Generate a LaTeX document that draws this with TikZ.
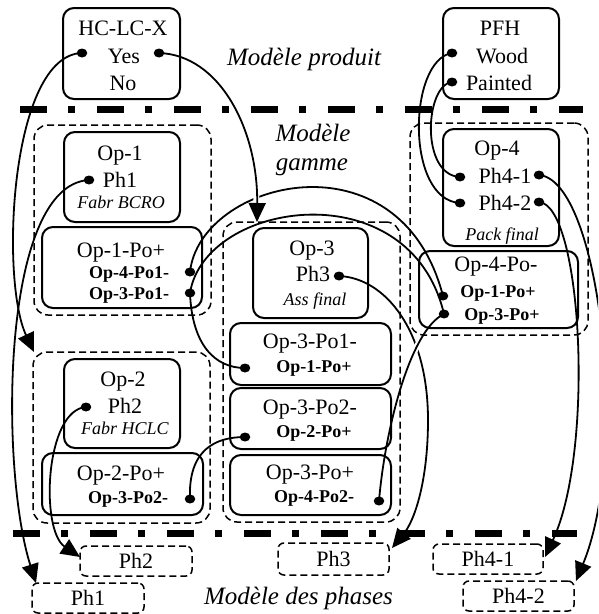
\documentclass[tikz,border=0pt]{standalone}
\usepackage{fontspec}
\setmainfont{Liberation Serif}
\usetikzlibrary{arrows.meta,intersections,shapes.geometric}
\begin{document}
\begin{tikzpicture}[x=1pt,y=-1pt,
  box/.style={draw, line width=2pt, rounded corners=11pt, inner sep=0pt},
  grp/.style={draw, line width=1.5pt, dash pattern=on 7pt off 4pt, rounded corners=14pt, inner sep=0pt},
  phbox/.style={draw, line width=1.5pt, dash pattern=on 7pt off 4pt, rounded corners=6pt, inner sep=0pt, font=\fontsize{22}{24}\selectfont},
  big/.style={font=\fontsize{22}{24}\selectfont, anchor=base, inner sep=0pt},
  small/.style={font=\fontsize{18}{20}\selectfont\bfseries, anchor=base, inner sep=0pt},
  ital/.style={font=\fontsize{18}{20}\selectfont\itshape, anchor=base, inner sep=0pt},
  head/.style={font=\fontsize{25}{28}\selectfont\itshape, anchor=base, inner sep=0pt},
  dot/.style={ellipse, fill, inner sep=0pt, minimum width=10.5pt, minimum height=9pt},
  link/.style={line width=1.8pt},
  arr/.style={link, -{Triangle[length=19pt,width=17pt]}},
  halo/.style={draw=white, line width=6pt},
  sep/.style={line width=7pt, dash pattern=on 27pt off 21pt on 7pt off 22pt},
]
\useasboundingbox (0,0) rectangle (598,614);
\clip (0,0) rectangle (598,614);

% dashed groups
\node[grp, minimum width=177, minimum height=190] (g1) at (122.5,220) {};
\node[grp, minimum width=177, minimum height=171] (g2) at (121.5,437.5) {};
\node[grp, minimum width=177, minimum height=300] (g3) at (311.5,372) {};
\node[grp, minimum width=178, minimum height=212] (g4) at (499,229) {};

% solid boxes
\node[box, minimum width=117, minimum height=91] (bhc) at (121.5,53.5) {};
\node[box, minimum width=116, minimum height=91] (bpfh) at (501,53.5) {};
\node[box, minimum width=116, minimum height=90] (bop1) at (122,177) {};
\node[box, minimum width=160, minimum height=81] (bpo1) at (122,267.5) {};
\node[box, minimum width=116, minimum height=89] (bop2) at (122,403.5) {};
\node[box, minimum width=161, minimum height=62] (bpo2) at (122.5,484) {};
\node[box, minimum width=115, minimum height=90] (bop3) at (310.5,273) {};
\node[box, minimum width=161, minimum height=62] (bpo31) at (310.5,354) {};
\node[box, minimum width=161, minimum height=61] (bpo32) at (310.5,418.5) {};
\node[box, minimum width=161, minimum height=60] (bpo3p) at (310.5,485) {};
\node[box, minimum width=116, minimum height=117] (bop4) at (501,187.5) {};
\node[box, minimum width=159, minimum height=77] (bpo4) at (498.5,289.5) {};

% texts
\node[big] (thc) at (123,35) {HC-LC-X};
\node[big] (tyes) at (124,63) {Yes};
\node[big] (tno) at (123,90) {No};
\node[big] (tpfh) at (500,35) {PFH};
\node[big] (twood) at (502,63) {Wood};
\node[big] (tpainted) at (499,90) {Painted};

\node[big] (top1) at (120,160) {Op-1};
\node[big] (tph1) at (120,187) {Ph1};
\node[ital] (tfb1) at (121,208) {Fabr BCRO};
\node[big] (tpo1) at (121,257) {Op-1-Po+};
\node[small] (tpo1a) at (129,278) {Op-4-Po1-};
\node[small] (tpo1b) at (129,299) {Op-3-Po1-};

\node[big] (top2) at (123,386) {Op-2};
\node[big] (tph2) at (125,413) {Ph2};
\node[ital] (tfb2) at (125,434) {Fabr HCLC};
\node[big] (tpo2) at (121,480) {Op-2-Po+};
\node[small] (tpo2a) at (128,503) {Op-3-Po2-};

\node[big] (top3) at (312,255) {Op-3};
\node[big] (tph3) at (313,281) {Ph3};
\node[ital] (tas3) at (315,305) {Ass final};
\node[big] (tpo31) at (310,348) {Op-3-Po1-};
\node[small] (tpo31a) at (314,372) {Op-1-Po+};
\node[big] (tpo32) at (310,414) {Op-3-Po2-};
\node[small] (tpo32a) at (314,437) {Op-2-Po+};
\node[big] (tpo3p) at (310,479) {Op-3-Po+};
\node[small] (tpo3pa) at (314,502) {Op-4-Po2-};

\node[big] (top4) at (497,155) {Op-4};
\node[big] (tph41) at (505,183) {Ph4-1};
\node[big] (tph42) at (505,210) {Ph4-2};
\node[ital] (tpk4) at (502,240) {Pack final};
\node[big] (tpo4) at (496,271) {Op-4-Po-};
\node[small] (tpo4a) at (498,297) {Op-1-Po+};
\node[small] (tpo4b) at (502,320) {Op-3-Po+};

% headings
\node[head] (h1) at (304,65) {Modèle produit};
\node[head] (h2a) at (313,141) {Modèle};
\node[head] (h2b) at (312,170) {gamme};
\node[head] (h3) at (298.5,604) {Modèle des phases};

% phase boxes
\node[phbox, minimum width=112, minimum height=30] (p1) at (88,598) {Ph1};
\node[phbox, minimum width=112, minimum height=30] (p2) at (136,561) {Ph2};
\node[phbox, minimum width=111, minimum height=32] (p3) at (333.5,559) {Ph3};
\node[phbox, minimum width=110, minimum height=30] (p41) at (488,559) {Ph4-1};
\node[phbox, minimum width=111, minimum height=30] (p42) at (518.5,596) {Ph4-2};

% separators
\coordinate (s1a) at (20,109); \coordinate (s1b) at (583,109);
\coordinate (s2a) at (13,533.5); \coordinate (s2b) at (577,533.5);
\draw[sep] (s1a) -- (s1b);
\draw[sep] (s2a) -- (s2b);

% dots
\node[dot] (yesL) at (82,53) {};
\node[dot] (yesR) at (159,53) {};
\node[dot] (wood) at (452,53) {};
\node[dot] (painted) at (452,82) {};
\node[dot] (ph1) at (89,180) {};
\node[dot] (o14) at (190,272) {};
\node[dot] (o13) at (190,293) {};
\node[dot] (ph2) at (86,407) {};
\node[dot] (o2) at (190,499) {};
\node[dot] (ph3) at (339,276) {};
\node[dot] (o31) at (245,368) {};
\node[dot] (o32) at (245,437) {};
\node[dot] (o3p) at (379,501) {};
\node[dot] (ph41L) at (460,177) {};
\node[dot] (ph42L) at (460,203) {};
\node[dot] (ph41R) at (539,175) {};
\node[dot] (ph42R) at (539,202) {};
\node[dot] (o41) at (443,296) {};
\node[dot] (o43) at (444,314) {};

% arrow end points
\coordinate (cA) at (34,352);
\coordinate (cB) at (36,583);
\coordinate (cC) at (257,222);
\coordinate (cD) at (80,557);
\coordinate (cJ) at (392,548);
\coordinate (cK) at (576,581);
\coordinate (cL) at (545,557);

% connectors
\draw[arr] (yesL.center) .. controls (10,55) and (0,280) .. (cA);
\draw[arr] (ph1.center) .. controls (0,185) and (0,470) .. (cB);
\draw[arr] (ph2.center) .. controls (45,410) and (40,530) .. (cD);
\draw[link] (o2.center) .. controls (188,450) and (215,437) .. (o32.center);
\draw[link] (o13.center) .. controls (192,345) and (215,368) .. (o31.center);
\draw[link] (o13.center) .. controls (205,200) and (410,170) .. (o43.center);
\draw[link, name path=pG] (o14.center) .. controls (200,180) and (400,130) .. (o41.center);
\path[name path=pC] (yesR.center) .. controls (220,55) and (258,130) .. (cC);
\path[name intersections={of=pG and pC, by=xGC}];
\begin{scope}
  \clip (xGC) circle (12pt);
  \draw[halo] (yesR.center) .. controls (220,55) and (258,130) .. (cC);
\end{scope}
\draw[arr] (yesR.center) .. controls (220,55) and (258,130) .. (cC);

\draw[arr, name path=pJ] (ph3.center) .. controls (385,278) and (428,330) .. (428,420) .. controls (428,480) and (415,520) .. (cJ);
\path[name path=pI] (o43.center) .. controls (410,330) and (385,430) .. (o3p.center);
\path[name intersections={of=pJ and pI, by=xJI}];
\begin{scope}
  \clip (xJI) circle (12pt);
  \draw[halo] (o43.center) .. controls (410,330) and (385,430) .. (o3p.center);
\end{scope}
\draw[link] (o43.center) .. controls (410,330) and (385,430) .. (o3p.center);

\draw[arr] (ph41R.center) .. controls (600,180) and (630,450) .. (cK);
\draw[arr] (ph42R.center) .. controls (582,205) and (595,450) .. (cL);
\draw[link] (wood.center) .. controls (408,60) and (405,200) .. (ph42L.center);
\draw[link] (painted.center) .. controls (425,85) and (420,175) .. (ph41L.center);
\end{tikzpicture}
\end{document}
